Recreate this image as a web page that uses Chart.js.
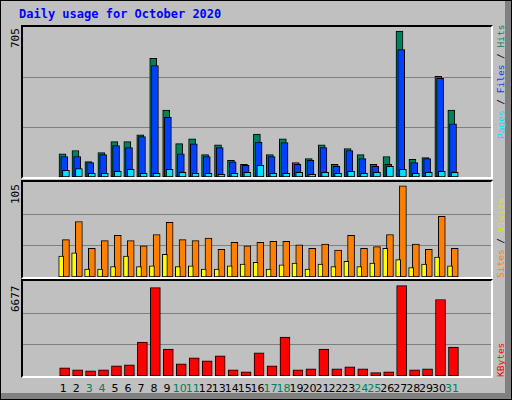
<!DOCTYPE html>
<html><head><meta charset="utf-8">
<script src="https://cdn.jsdelivr.net/npm/chart.js@4"></script>
<style>
body{margin:0;background:#fff}
#f{position:absolute;left:0;top:0;width:510px;height:398px;background:#c0c0c0;border:1px solid #000;overflow:hidden}
#sh1{position:absolute;left:504px;top:0;width:6px;height:398px;background:#808080}
#sh2{position:absolute;left:0;top:392px;width:510px;height:6px;background:#808080}
.p{position:absolute;box-sizing:border-box;border-style:solid;border-width:2px;border-color:#000 #fff #fff #000}
canvas{position:absolute}
.t{position:absolute;font-family:"DejaVu Sans Mono",monospace;font-size:11px;white-space:nowrap;transform-origin:left top;transform:rotate(-90deg)}
.r{font-size:9.5px}
.d{position:absolute;top:381px;font-family:"DejaVu Sans",sans-serif;font-size:11px;transform:translateX(-50%)}
</style></head><body>
<div id="f">
<div id="sh1"></div><div id="sh2"></div>
<div style="position:absolute;left:18px;top:6px;font:bold 12px 'DejaVu Sans Mono',monospace;color:#0000ff">Daily usage for October 2020</div>
<div class="p" style="left:20px;top:24px;width:472px;height:154px"></div>
<div class="p" style="left:20px;top:179px;width:472px;height:99px"></div>
<div class="p" style="left:20px;top:278px;width:472px;height:99px"></div>
<canvas id="c1" style="left:22px;top:26px;width:468px;height:150px"></canvas>
<canvas id="c2" style="left:22px;top:181px;width:468px;height:95px"></canvas>
<canvas id="c3" style="left:22px;top:280px;width:468px;height:95px"></canvas>
<div class="t" style="left:8px;top:47px">705</div>
<div class="t" style="left:8px;top:203px">105</div>
<div class="t" style="left:8px;top:311px">6677</div>
<div class="t r" style="left:494px;top:138px"><span style="color:#00e0ff">Pages</span> / <span style="color:#0040ff">Files</span> / <span style="color:#00805c">Hits</span></div>
<div class="t r" style="left:494px;top:277px"><span style="color:#ff8000">Sites</span> / <span style="color:#e0e000">Visits</span></div>
<div class="t r" style="left:494px;top:376px"><span style="color:#ff0000">KBytes</span></div>
<div id="days"></div>
</div>
<script>
const days=[1,2,3,4,5,6,7,8,9,10,11,12,13,14,15,16,17,18,19,20,21,22,23,24,25,26,27,28,29,30,31];
const weekend=[3,4,10,11,17,18,24,25,31];
const hits=[112,128,75,118,171,171,204,573,324,161,185,108,156,80,61,207,108,185,70,89,156,61,137,108,61,99,705,85,94,486,324];
const files=[99,99,70,108,152,142,195,539,289,112,160,99,142,73,56,169,99,166,61,80,142,51,128,89,51,61,616,70,89,477,257];
const pages=[32,41,18,18,27,37,18,18,37,22,18,18,13,18,22,56,18,18,22,13,22,18,27,18,22,51,37,18,22,27,22];
const visits=[24,28,9,9,12,24,12,13,26,12,13,9,9,13,15,17,9,14,16,9,15,12,18,12,16,33,20,11,15,23,13];
const sites=[43,64,33,42,48,42,36,49,63,43,42,45,32,40,36,40,41,41,37,33,38,31,48,33,35,49,105,38,32,70,33];
const kbytes=[609,463,390,463,755,829,2510,6530,1998,902,1340,1121,1487,463,317,1706,755,2876,463,536,1998,536,682,536,244,317,6677,463,536,5654,2144];
const U=1/15.1;
const gridPlugin={id:'g',beforeDatasetsDraw(ch){const y=ch.scales.y,ctx=ch.ctx;ctx.save();ctx.strokeStyle='#808080';ctx.lineWidth=1;
 [1,2].forEach(k=>{const py=Math.round(y.getPixelForValue(y.max*k/3))+0.5;ctx.beginPath();ctx.moveTo(ch.chartArea.left,py);ctx.lineTo(ch.chartArea.right,py);ctx.stroke();});ctx.restore();}};
function ds(vals,color,off,w,order){return{data:vals.map((v,i)=>({x:days[i]+off*U,y:v})),backgroundColor:color,borderColor:'#000',borderWidth:1,barThickness:w,grouped:false,order:order,borderSkipped:false}}
function mk(id,sets,max){
 return new Chart(document.getElementById(id),{type:'bar',data:{datasets:sets},plugins:[gridPlugin],
 options:{responsive:false,animation:false,events:[],layout:{padding:0},
 plugins:{legend:{display:false},tooltip:{enabled:false}},
 scales:{x:{type:'linear',min:0.4,max:31.35,display:false},
 y:{min:0,max:max,display:false}}}});
}
function size(id,w,h){const c=document.getElementById(id);c.width=w;c.height=h;}
size('c1',468,150);size('c2',468,95);size('c3',468,95);
mk('c1',[ds(hits,'#00805c',-2,7,2),ds(files,'#0040ff',0,7,1),ds(pages,'#00e0ff',2,7,0)],725);
mk('c2',[ds(visits,'#ffff00',-3.5,5,0),ds(sites,'#ff8000',2,7,1)],109.5);
const c3=mk('c3',[ds(kbytes,'#ff0000',0.5,10,0)],7020);
const box=document.getElementById('days');
days.forEach(d=>{const e=document.createElement('div');e.className='d';e.textContent=d;
 e.style.left=(22+c3.scales.x.getPixelForValue(d)-1)+'px';
 e.style.color=weekend.includes(d)?'#00805c':'#000';box.appendChild(e);});
</script>
</body></html>
